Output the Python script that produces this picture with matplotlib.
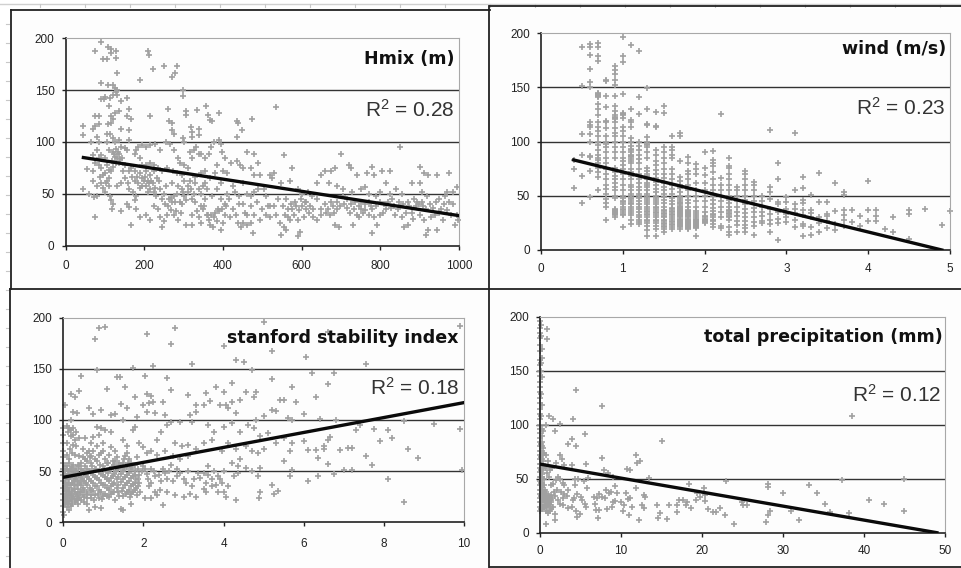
import matplotlib
matplotlib.use("Agg")
import matplotlib.pyplot as plt

plt.rcParams["font.family"] = ["Liberation Sans", "DejaVu Sans"]
plt.rcParams["mathtext.default"] = "regular"

W, H = 962, 568

hmix_ticks = [0, 200, 400, 600, 800, 1000]
wind_ticks = [0, 1, 2, 3, 4, 5]
stab_ticks = [0, 2, 4, 6, 8, 10]
prec_ticks = [0, 10, 20, 30, 40, 50]
y_ticks = [0, 50, 100, 150, 200]

hmix_line = [(45, 85), (1000, 29)]
wind_line = [(0.4, 83), (4.9, 0)]
stab_line = [(0, 44), (10, 117)]
prec_line = [(0, 63.5), (49, 0)]

hmix_points = [
    (75,188),(90,196),(95,180),(105,180),(108,192),(115,190),(115,186),(128,188),(128,181),(130,167),
    (90,157),(108,155),(120,155),(125,152),(128,148),(120,145),(130,145),(130,150),(90,141),(97,141),
    (100,143),(112,142),(140,140),(155,142),(110,135),(135,130),(160,132),(125,128),(115,125),(75,125),
    (85,125),(155,125),(165,122),(120,122),(140,113),(210,188),(213,184),(222,170),(250,173),(270,163),
    (278,167),(282,173),(188,160),(298,150),(298,144),(260,132),(215,125),(262,120),(270,118),(305,130),
    (305,126),(335,131),(357,135),(363,126),(367,121),(372,120),(390,128),(438,118),(435,120),(448,112),
    (473,122),(535,134),(318,114),(322,110),(340,113),(338,107),(270,112),(275,108),(297,104),(300,100),
    (320,105),(435,105),(378,100),(390,102),(45,115),(45,107),(70,113),(75,115),(85,117),(65,100),
    (80,105),(85,100),(108,117),(115,118),(105,108),(112,108),(120,104),(105,100),(125,100),(135,102),
    (160,112),(160,102),(155,92),(150,94),(140,95),(128,93),(120,90),(110,92),(100,85),(90,87),
    (80,92),(85,85),(70,87),(75,80),(85,78),(90,75),(105,78),(110,73),(120,76),(130,85),
    (135,88),(142,85),(125,86),(135,80),(150,78),(160,72),(165,75),(175,72),(180,92),(185,95),
    (195,97),(205,95),(175,88),(190,85),(195,78),(205,78),(215,80),(225,78),(235,75),(245,72),
    (255,100),(240,92),(215,97),(228,98),(265,98),(275,92),(285,85),(290,80),(300,78),(310,75),
    (258,75),(272,72),(283,70),(295,68),(55,74),(70,72),(100,70),(110,65),(90,60),(105,62),
    (70,62),(80,58),(95,56),(110,58),(45,55),(60,50),(72,47),(80,48),(100,52),(112,48),
    (115,44),(120,40),(118,35),(140,33),(75,28),(155,40),(160,37),(130,58),(140,60),(160,55),
    (170,52),(180,48),(185,60),(195,65),(200,62),(190,70),(205,58),(210,62),(215,55),(222,60),
    (228,56),(232,65),(215,68),(225,72),(205,72),(175,44),(180,35),(188,28),(205,30),(215,25),
    (165,20),(225,38),(235,35),(240,28),(245,18),(250,24),(258,30),(268,34),(275,30),(285,25),
    (280,33),(292,32),(295,40),(305,20),(320,20),(320,30),(335,33),(345,38),(350,35),(340,28),
    (345,22),(365,25),(368,20),(375,18),(385,24),(395,15),(400,22),(380,32),(390,33),(405,30),
    (300,48),(310,52),(318,55),(325,50),(250,50),(262,45),(270,42),(278,42),(240,55),(255,58),
    (270,60),(285,58),(295,55),(300,62),(315,62),(330,66),(345,70),(355,72),(368,65),(380,70),
    (385,78),(400,72),(410,70),(405,85),(398,90),(395,98),(370,95),(355,85),(340,88),(325,92),
    (315,90),(320,85),(332,95),(345,88),(365,88),(420,80),(435,82),(442,78),(450,75),(460,90),
    (478,88),(490,80),(470,75),(480,68),(495,68),(520,68),(530,70),(525,65),(548,60),(575,75),
    (570,62),(555,87),(590,55),(600,50),(615,52),(640,60),(650,68),(660,72),(675,72),(685,75),
    (700,88),(720,78),(725,75),(740,68),(765,70),(780,76),(785,68),(805,72),(825,72),(850,95),
    (900,76),(910,70),(920,68),(945,68),(975,70),(995,57),(355,60),(360,55),(372,48),(385,55),
    (395,60),(410,50),(415,45),(425,58),(430,52),(440,48),(450,60),(462,50),(478,52),(490,55),
    (505,55),(510,48),(520,38),(530,38),(355,45),(345,50),(330,42),(358,30),(405,40),(395,45),
    (440,40),(425,35),(455,32),(470,38),(480,30),(450,22),(460,20),(445,18),(470,22),(475,12),
    (495,25),(510,30),(520,28),(535,30),(545,22),(555,18),(548,10),(560,15),(570,25),(580,30),
    (590,25),(590,9),(595,13),(605,28),(610,35),(620,38),(630,35),(640,25),(650,30),(560,45),
    (565,35),(572,40),(585,38),(598,45),(612,42),(625,48),(640,45),(668,35),(680,38),(690,35),
    (675,42),(660,40),(650,35),(670,60),(690,58),(705,55),(695,18),(685,20),(725,40),(735,42),
    (745,38),(750,35),(760,40),(775,38),(730,20),(745,28),(755,32),(770,30),(785,28),(780,12),
    (792,20),(800,30),(815,35),(825,50),(815,60),(800,52),(790,48),(770,50),(750,55),(728,52),
    (715,45),(705,48),(835,38),(845,35),(855,28),(860,18),(870,20),(880,32),(890,38),(900,30),
    (905,42),(915,35),(870,42),(885,45),(880,60),(900,60),(905,52),(918,48),(925,40),(912,25),
    (915,10),(922,15),(940,30),(950,45),(955,35),(965,48),(975,42),(985,40),(960,25),(945,15),
    (990,20),(995,30),(985,52),(970,52),(998,25),(855,50),(840,55),(830,45),(810,40),(760,57),
    # second pass over the denser parts of the cloud
    (118,82),(124,88),(132,90),(138,84),(128,80),(116,72),(95,68),(102,60),(88,66),(145,72),
    (150,65),(158,60),(168,66),(176,62),(182,66),(188,56),(195,58),(202,66),(208,52),(212,60),
    (218,62),(224,52),(230,48),(238,62),(245,45),(252,40),(260,38),(268,46),(275,48),(282,50),
    (290,42),(298,52),(305,44),(312,58),(320,45),(328,60),(338,55),(348,58),(352,38),(362,30),
    (370,30),(378,28),(386,35),(398,35),(408,38),(418,28),(432,30),(438,22),(452,40),(462,30),
    (470,48),(486,42),(500,35),(515,38),(540,45),(552,38),(558,30),(566,28),(575,35),(582,42),
    (592,34),(602,38),(608,42),(618,32),(628,28),(662,32),(672,30),(682,32),(690,42),(698,38),
    (708,40),(716,36),(722,32),(732,35),(740,30),(752,42),(762,34),(772,42),(780,35),(790,38),
    (798,42),(808,32),(820,42),(828,36),(838,30),(848,42),(858,40),(866,32),(874,38),(884,26),
    (892,42),(898,40),(908,38),(930,28),(935,36),(942,42),(948,32),(962,40),(970,34),(980,30),
]

wind_columns = [
    (0.4, [57,75,83]),
    (0.5, [43,68,88,107,151,187]),
    (0.6, [49,73,86,87,100,107,113,115,118,150,155,167,180,187,190]),
    (0.7, [55,67,72,76,80,83,85,88,92,97,100,105,110,113,118,124,130,135,141,142,143,144,145,174,179,187,191]),
    (0.8, [28,40,43,47,52,56,60,65,70,75,80,85,90,95,98,100,105,112,118,119,132,142,156,157]),
    (0.9, [30,32,33,34,35,36,37,38,48,50,55,58,62,65,68,72,76,85,90,95,100,105,108,112,118,121,122,123,124,128,133,142,152,157,162,166,170]),
    (1.0, [21,32,33,35,37,38,40,42,44,45,48,50,55,60,65,70,75,78,82,85,90,95,100,105,110,113,122,124,125,126,144,173,179,196]),
    (1.1, [24,28,32,34,36,38,40,42,43,45,47,48,50,52,55,58,60,65,68,72,75,80,82,84,86,87,88,90,92,93,96,100,103,113,118,120,130,189]),
    (1.2, [24,26,28,30,32,35,38,40,42,45,48,50,52,55,58,62,65,70,75,80,84,88,92,96,100,125,141,183]),
    (1.3, [13,18,22,25,27,28,30,32,33,35,36,38,40,42,44,46,48,50,52,55,58,60,62,65,68,70,73,76,85,90,95,97,98,100,104,115,116,130,149]),
    (1.4, [13,19,22,25,27,28,30,32,34,35,37,39,40,42,44,46,48,50,53,56,60,63,66,70,74,78,82,88,92,113,114,127]),
    (1.5, [17,19,21,22,24,25,27,28,30,31,33,34,36,37,40,43,46,49,52,55,58,62,66,70,75,80,85,90,95,126,133]),
    (1.6, [19,21,23,24,26,27,29,30,32,33,35,36,38,39,42,45,48,52,56,60,65,70,75,85,88,92,95,105]),
    (1.7, [19,21,22,23,24,25,26,27,28,29,30,31,32,33,34,35,36,37,38,39,40,41,42,43,44,46,48,50,53,57,60,64,67,82,105,108]),
    (1.8, [19,20,21,22,23,24,25,26,27,28,29,30,31,32,33,34,35,36,37,40,43,46,50,55,60,65,70,73,80,86]),
    (1.9, [13,20,21,22,23,24,25,26,27,28,29,30,32,34,36,40,45,50,55,62,70,75,79]),
    (2.0, [25,26,27,28,29,30,31,35,40,45,50,55,62,69,76,90]),
    (2.1, [21,24,27,28,30,32,33,36,39,42,46,50,55,60,65,72,77,80,83,91]),
    (2.2, [20,22,30,35,40,45,50,55,60,66,125]),
    (2.3, [14,17,21,28,30,31,33,34,36,37,40,43,46,50,55,60,65,70,76,77,85]),
    (2.4, [17,23,27,31,35,40,45,50,55,58]),
    (2.5, [17,20,23,27,30,34,38,42,46,50,55,60,65,70,73]),
    (2.6, [14,22,26,30,35,39,45,50,55,60,63]),
    (2.7, [25,27,31,35,40,45,50]),
    (2.8, [17,24,28,33,38,47,53,58,111]),
    (2.9, [9,25,29,35,42,44,65,80]),
    (3.0, [26,30,33,38,44,49]),
    (3.1, [21,28,34,38,42,55,108]),
    (3.2, [13,22,24,32,37,43,46,57,67]),
    (3.3, [14,21,30,34,37,51]),
    (3.4, [17,25,30,44,71]),
    (3.5, [20,27,31,33,44]),
    (3.6, [18,24,36,62]),
    (3.7, [22,28,32,37,51,53]),
    (3.8, [26,37]),
    (3.9, [22,31]),
    (4.0, [27,37,64]),
    (4.1, [27,31,37]),
    (4.2, [19]),
    (4.3, [17,30]),
    (4.5, [10,33,37]),
    (4.7, [38]),
    (4.9, [23]),
    (5.0, [36]),
]

stab_points = [
    (0.8,179),(0.9,190),(1.05,191),(2.1,184),(2.8,190),(2.7,174),(5.0,196),(4.0,172),(5.2,167),(6.05,162),
    (4.3,159),(4.5,157),(4.7,149),(6.6,186),(9.9,192),(7.55,155),(3.2,155),(2.25,153),(1.75,151),(0.85,149),
    (2.05,143),(0.45,143),(1.35,142),(1.42,142),(6.2,146),(6.75,146),(2.6,141),(5.2,140),(6.6,135),(4.2,136),
    (5.7,132),(1.55,132),(1.1,130),(3.8,132),(3.55,126),(2.7,129),(4.55,127),(4.8,127),(0.2,125),(0.3,122),
    (0.4,128),(3.1,124),(4.0,127),(2.1,125),(2.2,123),(6.3,122),(1.8,122),(2.15,117),(2.5,118),(5.4,120),
    (5.5,120),(5.8,118),(4.75,122),(4.4,120),(3.65,119),(3.3,115),(3.5,115),(3.9,115),(4.05,115),(4.2,118),
    (0.05,115),(0.65,112),(1.45,116),(1.6,112),(2.0,115),(2.25,118),(4.1,112),(5.2,110),(5.3,109),(6.0,106),
    (0.25,108),(0.35,107),(0.75,106),(0.95,110),(1.2,105),(1.3,106),(1.85,103),(2.1,108),(2.3,107),(2.55,105),
    (3.15,105),(3.3,108),(4.3,107),(4.8,100),(5.0,104),(5.6,102),(5.7,100),(6.4,101),(6.8,100),(7.4,95),
    (7.75,91),(8.1,90),(8.5,99),(9.25,96),(9.9,91),(7.3,90),(7.9,79),(8.2,82),(8.6,72),(8.85,63),
    (7.55,65),(7.7,56),(8.1,42),(8.5,20),(9.95,51),(7.2,51),(7.0,51),(6.75,47),(6.35,45),(6.1,40),
    (6.9,71),(7.1,73),(7.2,73),(6.5,75),(6.5,72),(6.3,71),(6.1,71),(6.0,79),(6.65,83),(6.6,80),
    (6.35,63),(6.6,57),(5.7,51),(5.65,45),(5.5,60),(5.2,36),(5.25,28),(5.35,31),(4.85,45),(4.9,30),
    (4.88,24),(2.5,17),(3.5,33),(4.3,22),(4.0,30),(3.85,30),(0.2,100),(0.1,94),(0.15,92),(0.2,90),
    (0.25,85),(0.3,80),(0.32,75),(0.85,93),(0.95,92),(1.05,90),(1.2,88),(1.5,100),(1.75,90),(1.8,93),
    (0.9,85),(0.75,83),(0.55,82),(0.7,78),(0.5,72),(0.65,70),(0.85,75),(1.0,78),(1.2,74),(1.3,70),
    (1.6,75),(1.5,80),(1.9,78),(2.0,74),(2.2,70),(2.35,80),(2.45,88),(2.6,95),(2.7,98),(2.9,98),
    (3.2,98),(3.6,95),(3.75,88),(4.0,93),(4.2,97),(4.4,88),(4.6,95),(4.75,92),(4.9,84),(5.1,87),
    (5.3,78),(5.5,82),(5.7,78),(5.65,70),(2.8,78),(2.95,75),(3.1,76),(3.3,72),(3.5,78),(3.7,80),
    (3.95,70),(4.1,78),(4.3,72),(4.55,75),(4.7,70),(4.85,68),(5.0,72),(4.4,62),(4.2,58),(4.35,55),
    (3.1,65),(2.9,62),(2.75,65),(2.55,70),(2.35,66),(2.1,68),(1.85,64),(1.6,68),(0.4,65),(0.55,62),
    (0.7,65),(0.85,60),(1.05,62),(1.3,60),(1.5,58),(1.65,62),(1.8,56),(2.0,55),(2.2,52),(2.5,52),
    (2.7,56),(2.85,52),(3.1,50),(3.35,48),(3.6,55),(3.75,50),(4.0,50),(4.55,53),(4.7,50),(4.9,53),
    (2.1,47),(2.3,45),(2.45,40),(2.6,42),(2.85,45),(3.05,38),(3.2,35),(3.4,43),(3.55,38),(3.7,42),
    (2.05,24),(2.2,24),(2.35,27),(2.6,30),(2.8,27),(3.0,25),(3.15,28),(3.3,25),(3.55,30),(3.7,35),
    (2.15,35),(2.3,30),(3.85,45),(3.95,38),(4.1,35),(4.25,45),(4.35,48),(4.05,25),(0.0,92),(0.0,85),
    (0.0,78),(0.0,70),(0.0,64),(0.0,58),(0.0,52),(0.0,46),(0.0,40),(0.0,34),(0.0,28),(0.0,22),
    (0.0,16),(0.0,10),(0.02,7),(0.05,50),(0.06,42),(0.04,35),(0.07,28),(0.05,22),(0.08,15),(0.1,55),
    (0.12,47),(0.11,38),(0.13,30),(0.1,24),(0.12,18),(0.15,12),(0.18,52),(0.17,44),(0.19,36),(0.2,28),
    (0.18,22),(0.2,16),(0.25,56),(0.24,48),(0.26,40),(0.27,33),(0.25,26),(0.28,20),(0.32,52),(0.31,44),
    (0.33,36),(0.35,28),(0.34,22),(0.4,55),(0.38,46),(0.41,38),(0.42,30),(0.4,24),(0.48,50),(0.47,42),
    (0.5,34),(0.49,27),(0.52,20),(0.55,55),(0.56,46),(0.57,38),(0.58,30),(0.6,24),(0.65,12),(0.63,50),
    (0.65,42),(0.66,34),(0.68,27),(0.72,55),(0.73,46),(0.74,38),(0.75,31),(0.76,22),(0.8,15),(0.82,52),
    (0.83,43),(0.84,35),(0.86,28),(0.92,56),(0.93,47),(0.94,38),(0.95,30),(0.97,23),(0.95,14),(1.02,52),
    (1.03,44),(1.04,36),(1.05,28),(1.1,58),(1.12,48),(1.13,40),(1.14,32),(1.15,25),(1.22,54),(1.23,45),
    (1.24,37),(1.25,30),(1.28,22),(1.32,50),(1.33,42),(1.35,34),(1.38,26),(1.42,56),(1.43,47),(1.45,39),
    (1.46,31),(1.45,13),(1.5,12),(1.52,52),(1.53,44),(1.55,36),(1.56,28),(1.62,58),(1.63,48),(1.64,40),
    (1.65,32),(1.66,25),(1.7,18),(1.72,54),(1.73,45),(1.74,37),(1.75,30),(1.8,50),(1.81,42),(1.82,34),
    (1.83,27),(1.88,46),(1.9,38),(1.92,30),(0.15,62),(0.3,66),(0.45,58),(0.6,60),(0.75,70),(0.95,68),
    (1.15,66),(1.35,64),(1.55,65),
    # second pass over the solid grey mass near the origin
    (0.03,55),(0.03,47),(0.03,38),(0.03,31),(0.03,25),(0.03,18),(0.08,52),(0.08,44),(0.08,36),(0.08,32),
    (0.08,26),(0.08,20),(0.14,58),(0.14,50),(0.14,42),(0.14,34),(0.14,27),(0.14,21),(0.22,54),(0.22,46),
    (0.22,38),(0.22,32),(0.22,24),(0.22,18),(0.29,50),(0.29,42),(0.29,36),(0.29,30),(0.29,23),(0.36,56),
    (0.36,48),(0.36,40),(0.36,33),(0.36,26),(0.36,18),(0.44,52),(0.44,44),(0.44,36),(0.44,30),(0.44,22),
    (0.52,48),(0.52,40),(0.52,32),(0.52,25),(0.6,52),(0.6,44),(0.6,36),(0.6,28),(0.6,18),(0.69,58),
    (0.69,50),(0.69,40),(0.69,32),(0.69,24),(0.78,52),(0.78,44),(0.78,35),(0.78,27),(0.88,50),(0.88,41),
    (0.88,32),(0.88,24),(0.99,55),(0.99,46),(0.99,36),(0.99,26),(1.08,50),(1.08,42),(1.08,34),(1.08,26),
    (1.18,52),(1.18,43),(1.18,35),(1.18,28),(1.27,56),(1.27,47),(1.27,38),(1.27,30),(1.36,52),(1.36,44),
    (1.36,36),(1.36,30),(1.48,50),(1.48,42),(1.48,34),(1.48,26),(1.58,54),(1.58,46),(1.58,38),(1.58,30),
    (1.68,52),(1.68,43),(1.68,35),(1.68,28),(1.78,46),(1.78,38),(1.78,32),(1.86,52),(1.86,42),(1.86,35),
    (0.12,88),(0.18,84),(0.25,92),(0.32,88),(0.38,82),(0.08,78),(0.16,72),(0.24,76),(0.1,66),(0.22,68),
    (0.48,64),(0.58,68),(0.66,64),(0.78,62),(0.9,66),(1.0,70),(1.12,58),(1.25,60),(1.4,58),(1.52,62),
    (1.7,58),(1.96,50),(2.05,52),(2.12,42),(2.18,38),(2.27,50),(2.38,46),(2.42,32),(2.55,48),(2.65,50),
    (2.75,40),(2.92,48),(3.0,42),(3.25,42),(3.5,48),(3.62,46),(3.8,36),(3.92,42),
]

prec_points = [
    (0,196),(0,190),(0,185),(0,180),(0,174),(0,168),(0,160),(0,155),(0,150),(0,145),
    (0,140),(0,135),(0,130),(0,125),(0,120),(0,115),(0,110),(0,105),(0,100),(0,96),
    (0,92),(0,88),(0,84),(0,80),(0,76),(0,72),(0,68),(0,64),(0,60),(0,56),
    (0,52),(0,48),(0,44),(0,40),(0,36),(0,32),(0,28),(0,24),(0,20),(0.1,192),
    (0.15,182),(0.2,170),(0.2,162),(0.15,157),(0.1,150),(0.25,144),(0.1,128),(0.2,118),(0.1,108),(0.3,96),
    (0.4,94),(0.2,90),(0.3,84),(0.2,80),(0.4,78),(0.5,74),(0.3,72),(0.2,68),(0.4,66),(0.2,62),
    (0.4,58),(0.2,54),(0.5,50),(0.3,46),(0.2,42),(0.4,40),(0.3,36),(0.5,34),(0.2,32),(0.4,30),
    (0.6,28),(0.3,26),(0.5,24),(0.2,22),(0.7,32),(0.8,36),(0.6,40),(0.9,28),(0.7,25),(1.0,30),
    (0.9,34),(1.1,27),(1.2,31),(0.8,20),(1.0,18),(1.3,22),(1.4,35),(0.7,8),(0.9,189),(0.9,179),
    (1.1,108),(1.6,105),(0.8,100),(1.9,94),(2.5,101),(4.1,105),(4.4,132),(4.0,87),(3.5,82),(4.4,80),
    (5.5,91),(7.6,117),(38.5,108),(15.0,85),(0.7,72),(1.0,66),(1.5,60),(2.0,65),(2.5,72),(2.7,68),
    (3.0,63),(3.9,63),(5.7,64),(7.6,69),(11.8,72),(12.0,65),(12.4,66),(10.7,59),(11.1,58),(7.9,58),
    (8.4,55),(9.0,52),(13.5,51),(2.2,52),(2.0,49),(2.5,50),(1.2,58),(0.9,55),(1.6,45),(2.8,46),
    (3.0,44),(4.3,50),(4.7,50),(5.4,48),(5.9,51),(4.3,44),(2.1,40),(2.6,38),(3.0,36),(3.5,40),
    (1.9,34),(2.2,30),(2.5,27),(2.9,32),(3.3,34),(2.9,26),(3.4,23),(4.0,24),(4.2,32),(4.1,30),
    (4.6,36),(5.0,33),(5.2,30),(5.8,41),(5.6,27),(5.7,24),(4.4,20),(4.6,15),(4.9,17),(1.8,12),
    (1.8,17),(1.2,20),(6.7,33),(7.0,32),(7.3,36),(7.6,33),(6.8,27),(6.9,21),(7.3,21),(7.1,14),
    (8.2,40),(8.5,37),(8.8,38),(8.0,32),(8.3,22),(8.9,24),(9.0,28),(9.3,29),(9.5,37),(9.2,43),
    (10.0,28),(10.2,20),(10.4,26),(10.6,37),(10.9,31),(11.1,32),(11.3,24),(11.0,16),(11.8,41),(12.2,12),
    (12.6,26),(12.9,23),(12.8,35),(13.0,33),(14.5,26),(14.6,14),(14.8,18),(15.7,13),(15.9,26),(16.9,19),
    (16.9,26),(17.2,30),(17.7,30),(18.0,26),(18.2,28),(18.6,23),(18.4,45),(19.4,37),(19.3,30),(19.7,33),
    (20.3,41),(20.4,35),(20.4,29),(20.8,22),(21.3,19),(21.7,19),(22.2,23),(22.9,16),(23.0,48),(23.9,8),
    (24.9,28),(25.0,26),(25.6,26),(27.9,10),(28.1,42),(28.1,45),(28.1,16),(28.4,20),(30.0,37),(31.0,20),
    (32.0,12),(33.2,44),(34.2,37),(35.2,27),(35.8,19),(37.3,49),(38.1,18),(40.6,30),(42.5,27),(45.0,50),
    (45.0,20),
    # second pass over the mass next to the y axis
    (0.1,82),(0.1,76),(0.1,70),(0.1,64),(0.1,58),(0.1,52),(0.1,46),(0.1,40),(0.1,34),(0.1,28),
    (0.1,22),(0.3,60),(0.3,52),(0.3,40),(0.3,30),(0.3,22),(0.5,44),(0.5,38),(0.5,30),(0.5,28),
    (0.6,34),(0.6,30),(0.7,38),(0.7,28),(0.8,32),(0.8,28),(0.9,30),(0.9,24),(1.0,26),(1.1,34),
    (1.2,26),(1.3,30),(1.4,28),(1.5,32),(1.6,24),(0.6,62),(0.8,60),(1.1,52),(1.4,44),(1.7,38),
]

hmix_x, hmix_y = zip(*hmix_points)
wind_x = [x for x, ys in wind_columns for _ in ys]
wind_y = [y for _, ys in wind_columns for y in ys]
stab_x, stab_y = zip(*stab_points)
prec_x, prec_y = zip(*prec_points)


def draw_panel(fig, box, x, y, trend, xticks, title, r2, title_xy, r2_xy, xpad):
    left, top, right, bottom = box
    ax = fig.add_axes([left / W, 1 - bottom / H, (right - left) / W, (bottom - top) / H])
    ax.set_facecolor("none")
    ax.plot(x, y, "+", ms=4.0, mew=1.2, color="#a0a0a0", clip_on=False, zorder=2)
    ax.plot(*zip(*trend), color="#0a0a0a", lw=2.4, zorder=3)
    ax.set_xlim(xticks[0], xticks[-1])
    ax.set_ylim(0, 200)
    ax.set_xticks(xticks)
    ax.set_yticks(y_ticks)
    ax.tick_params(labelsize=8.5, length=3, width=1, color="#222222", labelcolor="#222222")
    ax.tick_params(axis="x", pad=xpad)
    ax.tick_params(axis="y", pad=5)
    for val in y_ticks[1:-1]:
        ax.axhline(val, color="#333333", lw=1.0, zorder=1)
    for side in ["top", "right"]:
        ax.spines[side].set_color("#a8a8a8")
    for side in ["left", "bottom"]:
        ax.spines[side].set_color("#222222")
        ax.spines[side].set_linewidth(1.2)
    ax.text(*title_xy, title, transform=ax.transAxes, ha="right", va="center",
            fontsize=12.6, fontweight="bold", family=["DejaVu Sans"], color="#111111", zorder=4)
    ax.text(*r2_xy, "R$^2$ = " + r2, transform=ax.transAxes, ha="right", va="center",
            fontsize=15, color="#333333", zorder=4)
    return ax


fig = plt.figure(figsize=(W / 100, H / 100), dpi=100, facecolor="white")

# sheet background, cell rulers and the frames round the four charts
bg = fig.add_axes([0, 0, 1, 1])
bg.set_xlim(0, W)
bg.set_ylim(H, 0)
bg.axis("off")
bg.fill([11, 962, 962, 11], [9, 9, 568, 568], color="#fdfdfd", lw=0)
bg.plot([0, 962], [4, 4], color="#d0d0d0", lw=1)
for px in range(40, 960, 45):
    bg.plot([px, px], [4, 7], color="#c8c8c8", lw=0.8)
for py in range(24, 560, 19):
    bg.plot([6, 9], [py, py], color="#c8c8c8", lw=0.8)
bg.plot([11, 490], [9.5, 9.5], color="#222222", lw=1.3)
bg.plot([490, 962], [6, 6], color="#222222", lw=1.3)
bg.plot([11, 11], [9.5, 289], color="#222222", lw=1.3)
bg.plot([10, 10], [289, 568], color="#222222", lw=1.3)
bg.plot([10, 962], [289, 289], color="#222222", lw=1.3)
bg.plot([489.5, 489.5], [6, 568], color="#222222", lw=1.3)
bg.plot([490, 962], [566.5, 566.5], color="#222222", lw=1.3)

draw_panel(fig, (65.7, 38.3, 459, 245.7), hmix_x, hmix_y, hmix_line, hmix_ticks,
           "Hmix (m)", "0.28", (0.988, 0.90), (0.988, 0.655), 7.5)
draw_panel(fig, (541, 33, 950, 250), wind_x, wind_y, wind_line, wind_ticks,
           "wind (m/s)", "0.23", (0.99, 0.925), (0.99, 0.655), 6.5)
draw_panel(fig, (63.3, 317.7, 464, 522.3), stab_x, stab_y, stab_line, stab_ticks,
           "stanford stability index", "0.18", (0.985, 0.90), (0.988, 0.655), 8)
draw_panel(fig, (540, 316.7, 945, 532.7), prec_x, prec_y, prec_line, prec_ticks,
           "total precipitation (mm)", "0.12", (0.995, 0.905), (0.99, 0.64), 6)

fig.savefig("out.png", dpi=100)
plt.close(fig)
